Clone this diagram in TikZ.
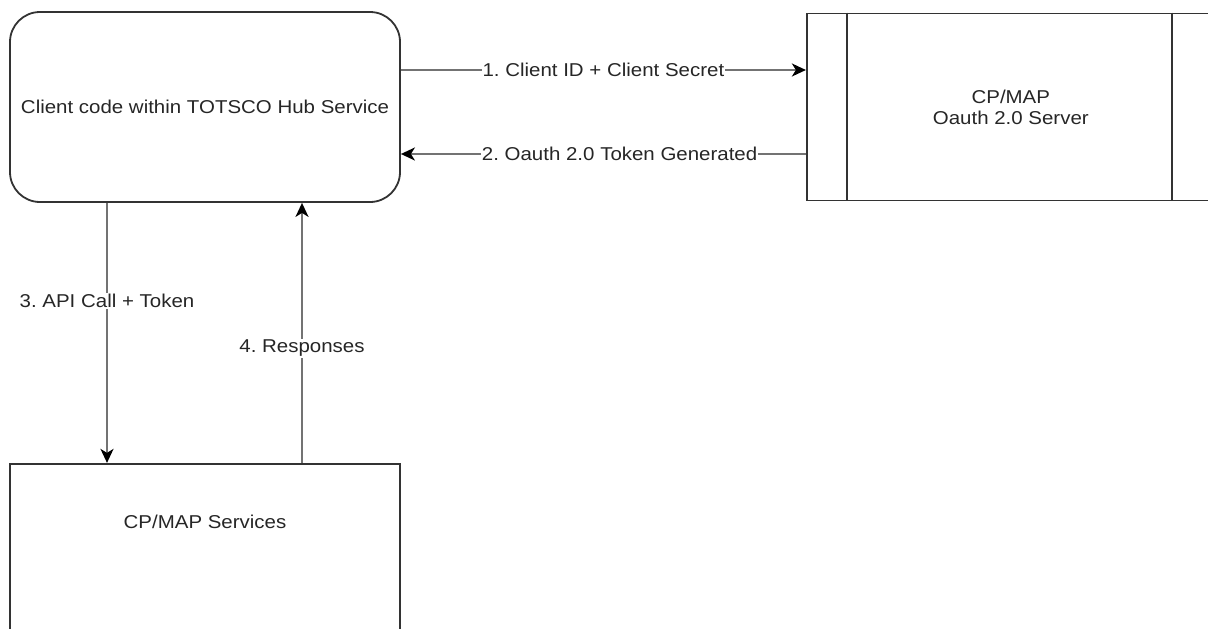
\documentclass[tikz,border=0pt]{standalone}
\usepackage{fontspec}
\setmainfont[FakeStretch=1.1]{Liberation Sans}
\usepackage{xcolor}
\usetikzlibrary{arrows.meta, positioning}
\tikzset{
  hubbox/.style={rectangle, rounded corners=30pt, draw=black!80, line width=1.8pt, align=center,
                 minimum width=390pt, minimum height=190pt, text=black!85},
  procbox/.style={rectangle, draw=black!80, line width=1.8pt, align=center,
                  minimum width=408pt, minimum height=187pt, text=black!85},
  svcbox/.style={rectangle, draw=black!80, line width=1.8pt, align=center,
                 minimum width=390pt, minimum height=230pt, text=black!85},
  flow/.style={-{Stealth[length=14pt, width=13pt, inset=4pt, color=black]}, draw=black!55, line width=2.2pt},
  lbl/.style={fill=white, inner sep=1pt, text=black!85},
  boxline/.style={draw=black!80, line width=1.8pt},
}

\begin{document}
\frenchspacing
\begin{tikzpicture}[x=1pt, y=-1pt, font=\fontsize{18.6}{21}\selectfont]
\clip (0,0) rectangle (1208,629);
\node[hubbox] (client) at (205,107) {Client code within TOTSCO Hub Service};
\node[procbox, right=405pt of client] (oauth) {CP/MAP\\Oauth 2.0 Server};
\node[svcbox, below=260pt of client, anchor=north] (svc) {};
\node[text=black!85] (svclabel) at (205,522) {CP/MAP Services};
% inner bars of the server box
\draw[boxline] ([xshift=41pt]oauth.north west) -- ([xshift=41pt]oauth.south west);
\draw[boxline] ([xshift=-44pt]oauth.north east) -- ([xshift=-44pt]oauth.south east);
% token exchange
\draw[flow] ([yshift=37pt]client.east) -- ([yshift=37pt]oauth.west)
  node[lbl, midway] {1. Client ID + Client Secret};
\draw[flow] ([yshift=-47pt]oauth.west) -- ([yshift=-47pt]client.east)
  node[lbl, pos=0.46] {2. Oauth 2.0 Token Generated};
% api calls
\draw[flow] ([xshift=-98pt]client.south) -- ([xshift=-98pt]svc.north)
  node[lbl, pos=0.377] {3. API Call + Token};
\draw[flow] ([xshift=97pt]svc.north) -- ([xshift=97pt]client.south)
  node[lbl, pos=0.44] {4. Responses};
\end{tikzpicture}
\end{document}
